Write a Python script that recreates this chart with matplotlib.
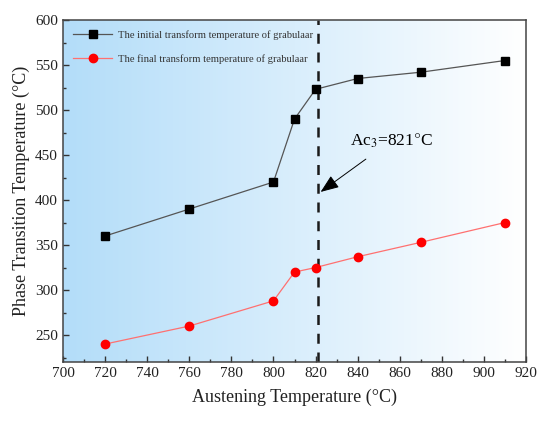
import matplotlib
matplotlib.use("Agg")
import matplotlib.pyplot as plt
import numpy as np
from matplotlib.colors import LinearSegmentedColormap
from matplotlib.ticker import MultipleLocator

# data
temps = [720, 760, 800, 810, 820, 840, 870, 910]
initial = [360, 390, 420, 490, 523, 535, 542, 555]
final = [240, 260, 288, 320, 325, 337, 353, 375]
ac3 = 821
labels = ["The initial transform temperature of grabulaar",
          "The final transform temperature of grabulaar"]

plt.rcParams["font.family"] = ["Liberation Serif", "DejaVu Serif"]
plt.rcParams["mathtext.fontset"] = "stix"

fig = plt.figure(figsize=(5.5, 4.21), dpi=100)
ax = fig.add_axes([0.1145, 0.140, 0.842, 0.8125])

# horizontal blue -> white background
bg = LinearSegmentedColormap.from_list("bg", ["#b3ddf9", "#ffffff"])
grad = np.linspace(0, 1, 256).reshape(1, -1)
ax.imshow(grad, cmap=bg, aspect="auto", extent=(700, 920, 220, 600),
          zorder=0, interpolation="bicubic")

ax.plot(temps, initial, color="#555555", lw=0.9, marker="s", ms=5.2,
        mfc="black", mec="black", label=labels[0], zorder=3)
ax.plot(temps, final, color="#ff7070", lw=0.9, marker="o", ms=6,
        mfc="red", mec="red", label=labels[1], zorder=3)

ax.axvline(ac3, color="#1a1a1a", lw=1.8, ls=(0, (4, 3.5)), zorder=2)
ax.annotate(r"Ac$_3$=821$\degree$C", xy=(822.4, 409), xytext=(856, 466),
            fontsize=12.5, ha="center", va="center",
            arrowprops=dict(arrowstyle="-|>,head_length=0.9,head_width=0.35",
                            color="black", lw=0.7, shrinkB=0, shrinkA=8))

ax.set_xlim(700, 920)
ax.set_ylim(220, 600)
ax.xaxis.set_major_locator(MultipleLocator(20))
ax.xaxis.set_minor_locator(MultipleLocator(10))
ax.yaxis.set_minor_locator(MultipleLocator(25))
ax.set_yticks([250, 300, 350, 400, 450, 500, 550, 600])
ax.tick_params(which="both", direction="in", top=False, right=False,
               labelsize=11, colors="#333333", labelcolor="#222222")
ax.tick_params(which="major", length=4, width=1)
ax.tick_params(which="minor", length=2.5, width=1)
for s in ax.spines.values():
    s.set_color("#444444")
    s.set_linewidth(1.1)

ax.set_xlabel("Austening Temperature (°C)", fontsize=13, color="#222222", labelpad=6)
ax.set_ylabel("Phase Transition Temperature (°C)", fontsize=13, color="#222222", labelpad=4)

leg = ax.legend(loc="upper left", frameon=False, fontsize=7.6, handlelength=3.7,
                borderaxespad=0.55, labelspacing=1.35, handletextpad=0.6)
for t in leg.get_texts():
    t.set_color("#333333")

fig.savefig("out.png", dpi=100)
